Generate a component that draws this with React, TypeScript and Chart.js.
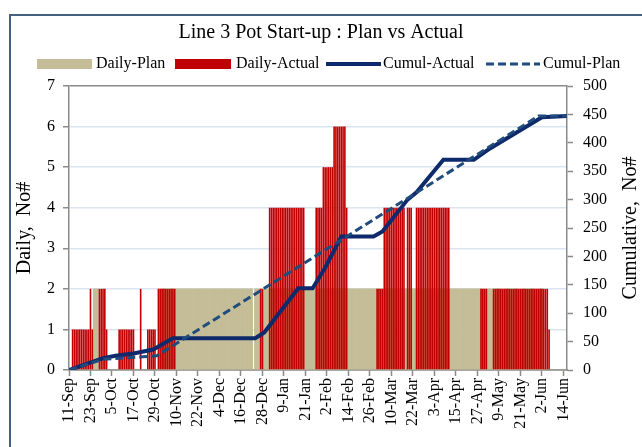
import { useEffect, useRef } from 'react';
import { Chart, registerables } from 'chart.js';

Chart.register(...registerables);

// ---------- data ----------
const seriesNames = ['Daily-Plan', 'Daily-Actual', 'Cumul-Actual', 'Cumul-Plan'];
const chartTitle = 'Line 3 Pot Start-up : Plan vs Actual';
const leftAxisTitle = 'Daily,  No#';
const rightAxisTitle = 'Cumulative,  No#';

// day index 0 = 11-Sep, one value per day (rows of 12 days)
const tickDays = [0, 12, 24, 36, 48, 60, 72, 84, 96, 108, 120, 132, 144, 156, 168, 180, 192, 204, 216, 228, 240, 252, 264, 276];
const tickLabels = ['11-Sep', '23-Sep', '5-Oct', '17-Oct', '29-Oct', '10-Nov', '22-Nov', '4-Dec', '16-Dec', '28-Dec', '9-Jan', '21-Jan', '2-Feb', '14-Feb', '26-Feb', '10-Mar', '22-Mar', '3-Apr', '15-Apr', '27-Apr', '9-May', '21-May', '2-Jun', '14-Jun'];
const lastDay = 278;

const dailyActual = [
  0, 0, 1, 1, 1, 1, 1, 1, 1, 1, 1, 1,
  2, 1, 0, 0, 0, 2, 2, 2, 2, 1, 0, 0,
  0, 0, 0, 0, 1, 1, 1, 1, 1, 1, 1, 1,
  1, 0, 0, 0, 2, 0, 0, 0, 1, 1, 1, 1,
  1, 0, 2, 2, 2, 2, 2, 2, 2, 2, 2, 2,
  0, 0, 0, 0, 0, 0, 0, 0, 0, 0, 0, 0,
  0, 0, 0, 0, 0, 0, 0, 0, 0, 0, 0, 0,
  0, 0, 0, 0, 0, 0, 0, 0, 0, 0, 0, 0,
  0, 0, 0, 0, 0, 0, 0, 0, 0, 0, 0, 2,
  2, 0, 0, 0, 4, 4, 4, 4, 4, 4, 4, 4,
  4, 4, 4, 4, 4, 4, 4, 4, 4, 4, 4, 4,
  0, 0, 0, 0, 0, 0, 4, 4, 4, 4, 5, 5,
  5, 5, 5, 5, 6, 6, 6, 6, 6, 6, 6, 4,
  0, 0, 0, 0, 0, 0, 0, 0, 0, 0, 0, 0,
  0, 0, 0, 0, 2, 2, 2, 2, 4, 4, 4, 4,
  4, 4, 4, 4, 4, 4, 4, 4, 0, 4, 4, 4,
  0, 0, 4, 4, 4, 4, 4, 4, 4, 4, 4, 4,
  4, 4, 4, 4, 4, 4, 4, 4, 4, 0, 0, 0,
  0, 0, 0, 0, 0, 0, 0, 0, 0, 0, 0, 0,
  0, 0, 2, 2, 2, 2, 0, 0, 0, 2, 2, 2,
  2, 2, 2, 2, 2, 2, 2, 2, 2, 2, 2, 2,
  2, 2, 2, 2, 2, 2, 2, 2, 2, 2, 2, 2,
  2, 2, 2, 2, 1, 0, 0, 0, 0, 0, 0, 0,
  0, 0, 0,
];

const dailyPlan = [
  0, 0, 0, 0, 0, 0, 0, 0, 0, 0, 0, 0,
  0, 0, 2, 2, 2, 0, 0, 0, 0, 0, 0, 0,
  0, 0, 0, 0, 0, 0, 0, 0, 0, 0, 0, 0,
  0, 0, 0, 0, 0, 0, 0, 0, 0, 0, 0, 0,
  0, 0, 2, 2, 2, 2, 2, 2, 2, 2, 2, 2,
  2, 2, 2, 2, 2, 2, 2, 2, 2, 2, 2, 2,
  2, 2, 2, 2, 2, 2, 2, 2, 2, 2, 2, 2,
  2, 2, 2, 2, 2, 2, 2, 2, 2, 2, 2, 2,
  2, 2, 2, 2, 2, 2, 2, 0, 2, 2, 2, 2,
  2, 2, 2, 2, 2, 2, 2, 2, 2, 2, 2, 2,
  2, 2, 2, 2, 2, 2, 2, 2, 2, 2, 2, 2,
  2, 2, 2, 2, 2, 2, 2, 2, 2, 2, 2, 2,
  2, 2, 2, 2, 2, 2, 2, 2, 2, 2, 2, 2,
  2, 2, 2, 2, 2, 2, 2, 2, 2, 2, 2, 2,
  2, 2, 2, 2, 2, 2, 2, 2, 2, 2, 2, 2,
  2, 2, 2, 2, 2, 2, 2, 2, 2, 2, 2, 2,
  2, 2, 2, 2, 2, 2, 2, 2, 2, 2, 2, 2,
  2, 2, 2, 2, 2, 2, 2, 2, 2, 2, 2, 2,
  2, 2, 2, 2, 2, 2, 2, 2, 2, 2, 2, 2,
  2, 2, 2, 2, 2, 2, 2, 2, 2, 2, 2, 2,
  2, 2, 2, 2, 2, 2, 2, 2, 2, 2, 2, 2,
  2, 2, 2, 2, 2, 2, 2, 2, 2, 2, 2, 2,
  2, 0, 0, 0, 0, 0, 0, 0, 0, 0, 0, 0,
  0, 0, 0,
];

// cumulative lines: [day index, value] vertices
const cumulActual = [
  [0, 0], [19, 21], [26, 25], [36, 29], [47, 36], [58, 56], [104, 56], [109, 66],
  [128, 144], [136, 144], [143, 180], [152, 235], [170, 235], [175, 244], [189, 300],
  [191, 305], [194, 313], [209, 370], [226, 370], [235, 390], [264, 445], [278, 447],
];
const cumulPlan = [
  [0, 0], [19, 19], [49, 25], [262, 447], [278, 447],
];

// ---------- style ----------
const FONT = "'Liberation Serif', 'Times New Roman', serif";
const PLAN_COLOR = '#c4bd97';
const ACTUAL_COLOR = '#c00000';
const CUM_ACTUAL_COLOR = '#0f2a6b';
const CUM_PLAN_COLOR = '#1f4b7d';
const AXIS_GRAY = '#8a8a8a';
const GRID_BLUE = '#dbe5f1';
const FRAME_COLOR = '#46607f';

const framePlugin = {
  id: 'frame',
  beforeDraw(chart: any) {
    const { ctx, width, height } = chart;
    ctx.save();
    ctx.fillStyle = '#ffffff';
    ctx.fillRect(0, 0, width, height);
    ctx.strokeStyle = FRAME_COLOR;
    ctx.lineWidth = 2;
    ctx.strokeRect(10, 15, width + 20, height + 20);
    ctx.restore();
  },
};

const legendPlugin = {
  id: 'customLegend',
  afterDraw(chart: any) {
    const { ctx } = chart;
    const y = 64;
    ctx.save();
    // swatches
    ctx.fillStyle = PLAN_COLOR;
    ctx.fillRect(37, y - 5, 55, 10);
    ctx.fillStyle = ACTUAL_COLOR;
    ctx.fillRect(175, y - 5, 56, 10);
    ctx.lineCap = 'butt';
    ctx.strokeStyle = CUM_ACTUAL_COLOR;
    ctx.lineWidth = 4;
    ctx.beginPath();
    ctx.moveTo(326, y);
    ctx.lineTo(381, y);
    ctx.stroke();
    ctx.strokeStyle = CUM_PLAN_COLOR;
    ctx.lineWidth = 3;
    ctx.setLineDash([8, 4]);
    ctx.beginPath();
    ctx.moveTo(486, y);
    ctx.lineTo(540, y);
    ctx.stroke();
    ctx.setLineDash([]);
    // labels
    ctx.fillStyle = '#000';
    ctx.font = `16px ${FONT}`;
    ctx.textBaseline = 'middle';
    ctx.textAlign = 'left';
    const xs = [96, 236, 383, 543];
    seriesNames.forEach((n, i) => ctx.fillText(n, xs[i], y));
    // right axis title (reads bottom to top)
    const area = chart.chartArea;
    ctx.translate(631, (area.top + area.bottom) / 2);
    ctx.rotate(-Math.PI / 2);
    ctx.textAlign = 'center';
    ctx.font = `20px ${FONT}`;
    ctx.fillText(rightAxisTitle, 0, 0);
    ctx.restore();
  },
};

export default function App() {
  const ref = useRef<HTMLCanvasElement | null>(null);

  useEffect(() => {
    if (!ref.current) return;
    Chart.defaults.font.family = FONT;
    Chart.defaults.color = '#000';

    const chart = new Chart(ref.current, {
      type: 'bar',
      data: {
        datasets: [
          {
            type: 'bar',
            label: seriesNames[0],
            data: dailyPlan.map((v, i) => ({ x: i, y: v })),
            backgroundColor: PLAN_COLOR,
            barPercentage: 1,
            categoryPercentage: 1,
            grouped: false,
            yAxisID: 'y',
            order: 3,
          },
          {
            type: 'bar',
            label: seriesNames[1],
            data: dailyActual.map((v, i) => ({ x: i, y: v })),
            backgroundColor: ACTUAL_COLOR,
            barPercentage: 0.9,
            categoryPercentage: 1,
            grouped: false,
            yAxisID: 'y',
            order: 2,
          },
          {
            type: 'line',
            label: seriesNames[2],
            data: cumulActual.map(([x, y]) => ({ x, y })),
            borderColor: CUM_ACTUAL_COLOR,
            borderWidth: 4,
            pointRadius: 0,
            tension: 0,
            yAxisID: 'y2',
            order: 1,
          },
          {
            type: 'line',
            label: seriesNames[3],
            data: cumulPlan.map(([x, y]) => ({ x, y })),
            borderColor: CUM_PLAN_COLOR,
            borderWidth: 3,
            borderDash: [8, 4],
            pointRadius: 0,
            tension: 0,
            yAxisID: 'y2',
            order: 0,
          },
        ] as any,
      },
      options: {
        animation: false,
        responsive: false,
        devicePixelRatio: 1,
        layout: { padding: 0 },
        plugins: {
          legend: { display: false },
          tooltip: { enabled: false },
          title: {
            display: true,
            text: chartTitle,
            color: '#000',
            font: { size: 20, weight: 'normal', family: FONT },
            padding: { top: 21, bottom: 41 },
          },
        },
        scales: {
          x: {
            type: 'linear',
            min: 0,
            max: lastDay,
            offset: false,
            afterBuildTicks: (s: any) => {
              s.ticks = tickDays.map((v) => ({ value: v }));
            },
            afterFit: (s: any) => {
              s.height = 77;
            },
            ticks: {
              autoSkip: false,
              minRotation: 90,
              maxRotation: 90,
              padding: 2,
              color: '#000',
              font: { size: 16 },
              callback: (_v: any, i: number) => tickLabels[i],
            },
            grid: { drawOnChartArea: false, offset: false, tickLength: 6, tickColor: AXIS_GRAY, tickWidth: 1.5 },
            border: { display: true, color: AXIS_GRAY, width: 1.5 },
          },
          y: {
            position: 'left',
            min: 0,
            max: 7,
            afterFit: (s: any) => {
              s.width = 69;
            },
            ticks: { stepSize: 1, padding: 8, color: '#000', font: { size: 16 } },
            grid: {
              color: (c: any) => (c.tick && (c.tick.value === 7 || c.tick.value === 0) ? AXIS_GRAY : GRID_BLUE),
              lineWidth: 1.5,
              tickLength: 6,
              tickColor: AXIS_GRAY,
            },
            border: { display: true, color: AXIS_GRAY, width: 1.5 },
            title: {
              display: true,
              text: leftAxisTitle,
              color: '#000',
              font: { size: 20, family: FONT },
              padding: { top: 13, bottom: 0 },
            },
          },
          y2: {
            position: 'right',
            min: 0,
            max: 500,
            afterFit: (s: any) => {
              s.width = 75;
            },
            ticks: { stepSize: 50, padding: 10, color: '#000', font: { size: 16 } },
            grid: { drawOnChartArea: false, tickLength: 6, tickColor: AXIS_GRAY, tickWidth: 1.5 },
            border: { display: true, color: AXIS_GRAY, width: 1.5 },
          },
        },
      } as any,
      plugins: [framePlugin, legendPlugin],
    });
    return () => chart.destroy();
  }, []);

  return (
    <div style={{ position: 'absolute', left: 0, top: 0, width: 642, height: 447, overflow: 'hidden' }}>
      <canvas ref={ref} width={642} height={447} style={{ display: 'block' }} />
    </div>
  );
}
